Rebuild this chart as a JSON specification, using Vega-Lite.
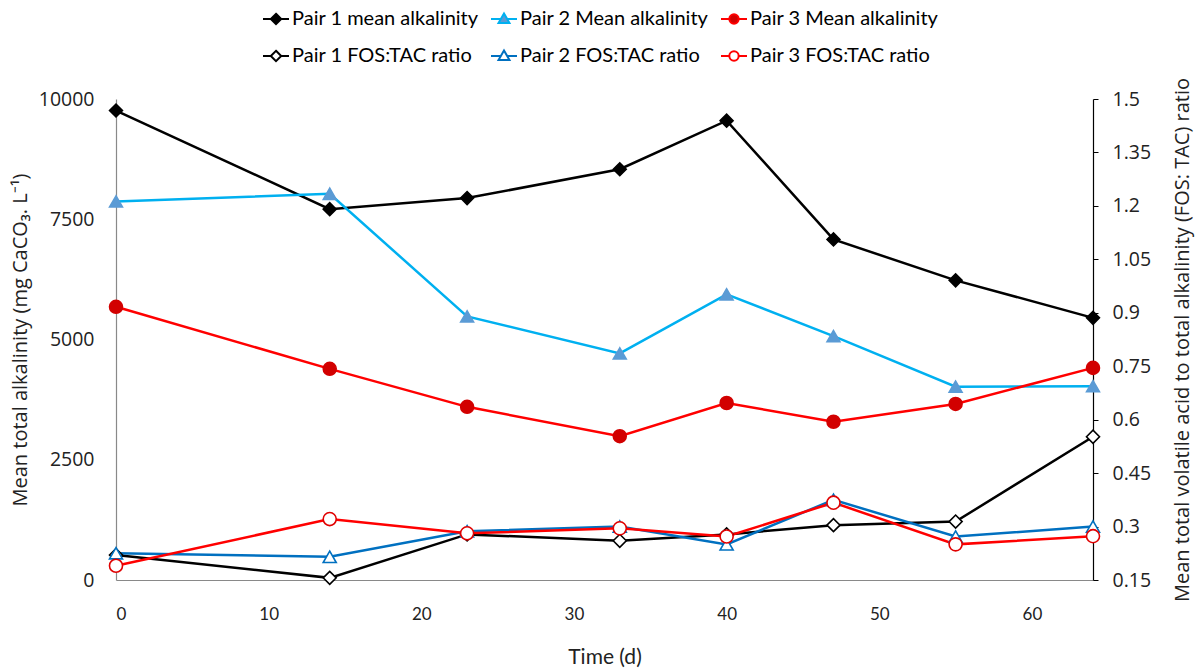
{
  "$schema": "https://vega.github.io/schema/vega-lite/v6.json",
  "width": 977,
  "height": 481,
  "autosize": {"type": "none"},
  "padding": {"left": 116, "top": 99, "right": 104, "bottom": 89},
  "background": "white",
  "config": {
    "view": {"stroke": null},
    "axis": {"grid": false, "labelColor": "#222222", "titleColor": "#222222", "titleFontWeight": "normal"}
  },
  "data": {
    "values": [
      {"t": 0, "series": "Pair 1 mean alkalinity", "kind": "mean", "v": 9760},
      {"t": 14, "series": "Pair 1 mean alkalinity", "kind": "mean", "v": 7710},
      {"t": 23, "series": "Pair 1 mean alkalinity", "kind": "mean", "v": 7940},
      {"t": 33, "series": "Pair 1 mean alkalinity", "kind": "mean", "v": 8540},
      {"t": 40, "series": "Pair 1 mean alkalinity", "kind": "mean", "v": 9550},
      {"t": 47, "series": "Pair 1 mean alkalinity", "kind": "mean", "v": 7080},
      {"t": 55, "series": "Pair 1 mean alkalinity", "kind": "mean", "v": 6230},
      {"t": 64, "series": "Pair 1 mean alkalinity", "kind": "mean", "v": 5450},
      {"t": 0, "series": "Pair 2 Mean alkalinity", "kind": "mean", "v": 7870},
      {"t": 14, "series": "Pair 2 Mean alkalinity", "kind": "mean", "v": 8030},
      {"t": 23, "series": "Pair 2 Mean alkalinity", "kind": "mean", "v": 5480},
      {"t": 33, "series": "Pair 2 Mean alkalinity", "kind": "mean", "v": 4710},
      {"t": 40, "series": "Pair 2 Mean alkalinity", "kind": "mean", "v": 5940},
      {"t": 47, "series": "Pair 2 Mean alkalinity", "kind": "mean", "v": 5070},
      {"t": 55, "series": "Pair 2 Mean alkalinity", "kind": "mean", "v": 4020},
      {"t": 64, "series": "Pair 2 Mean alkalinity", "kind": "mean", "v": 4030},
      {"t": 0, "series": "Pair 3 Mean alkalinity", "kind": "mean", "v": 5680},
      {"t": 14, "series": "Pair 3 Mean alkalinity", "kind": "mean", "v": 4390},
      {"t": 23, "series": "Pair 3 Mean alkalinity", "kind": "mean", "v": 3600},
      {"t": 33, "series": "Pair 3 Mean alkalinity", "kind": "mean", "v": 2990},
      {"t": 40, "series": "Pair 3 Mean alkalinity", "kind": "mean", "v": 3680},
      {"t": 47, "series": "Pair 3 Mean alkalinity", "kind": "mean", "v": 3290},
      {"t": 55, "series": "Pair 3 Mean alkalinity", "kind": "mean", "v": 3660},
      {"t": 64, "series": "Pair 3 Mean alkalinity", "kind": "mean", "v": 4410},
      {"t": 0, "series": "Pair 1 FOS:TAC ratio", "kind": "ratio", "v": 0.22},
      {"t": 14, "series": "Pair 1 FOS:TAC ratio", "kind": "ratio", "v": 0.156},
      {"t": 23, "series": "Pair 1 FOS:TAC ratio", "kind": "ratio", "v": 0.278},
      {"t": 33, "series": "Pair 1 FOS:TAC ratio", "kind": "ratio", "v": 0.26},
      {"t": 40, "series": "Pair 1 FOS:TAC ratio", "kind": "ratio", "v": 0.278},
      {"t": 47, "series": "Pair 1 FOS:TAC ratio", "kind": "ratio", "v": 0.304},
      {"t": 55, "series": "Pair 1 FOS:TAC ratio", "kind": "ratio", "v": 0.314},
      {"t": 64, "series": "Pair 1 FOS:TAC ratio", "kind": "ratio", "v": 0.552},
      {"t": 0, "series": "Pair 2 FOS:TAC ratio", "kind": "ratio", "v": 0.225},
      {"t": 14, "series": "Pair 2 FOS:TAC ratio", "kind": "ratio", "v": 0.215},
      {"t": 23, "series": "Pair 2 FOS:TAC ratio", "kind": "ratio", "v": 0.287},
      {"t": 33, "series": "Pair 2 FOS:TAC ratio", "kind": "ratio", "v": 0.3},
      {"t": 40, "series": "Pair 2 FOS:TAC ratio", "kind": "ratio", "v": 0.25},
      {"t": 47, "series": "Pair 2 FOS:TAC ratio", "kind": "ratio", "v": 0.375},
      {"t": 55, "series": "Pair 2 FOS:TAC ratio", "kind": "ratio", "v": 0.272},
      {"t": 64, "series": "Pair 2 FOS:TAC ratio", "kind": "ratio", "v": 0.3},
      {"t": 0, "series": "Pair 3 FOS:TAC ratio", "kind": "ratio", "v": 0.19},
      {"t": 14, "series": "Pair 3 FOS:TAC ratio", "kind": "ratio", "v": 0.321},
      {"t": 23, "series": "Pair 3 FOS:TAC ratio", "kind": "ratio", "v": 0.281},
      {"t": 33, "series": "Pair 3 FOS:TAC ratio", "kind": "ratio", "v": 0.295},
      {"t": 40, "series": "Pair 3 FOS:TAC ratio", "kind": "ratio", "v": 0.272},
      {"t": 47, "series": "Pair 3 FOS:TAC ratio", "kind": "ratio", "v": 0.367},
      {"t": 55, "series": "Pair 3 FOS:TAC ratio", "kind": "ratio", "v": 0.25},
      {"t": 64, "series": "Pair 3 FOS:TAC ratio", "kind": "ratio", "v": 0.273}
    ]
  },
  "encoding": {
    "x": {
      "field": "t",
      "type": "quantitative",
      "scale": {"domain": [0, 64], "nice": false, "zero": false},
      "axis": {
        "values": [0, 10, 20, 30, 40, 50, 60],
        "title": "Time (d)",
        "domainColor": "#898989",
        "domainWidth": 1.2,
        "ticks": false,
        "labelFont": "Lato",
        "labelFontSize": 17,
        "labelPadding": 26,
        "titleFont": "Lato",
        "titleFontSize": 21,
        "titlePadding": 24
      }
    }
  },
  "layer": [
    {
      "transform": [{"filter": "datum.kind === 'mean'"}],
      "encoding": {
        "y": {
          "field": "v",
          "type": "quantitative",
          "scale": {"domain": [0, 10000], "nice": false},
          "axis": {
            "orient": "left",
            "values": [0, 2500, 5000, 7500, 10000],
            "format": "d",
            "domainColor": "#898989",
            "domainWidth": 1.2,
            "ticks": false,
            "labelFont": "Open Sans",
            "labelFontSize": 19.5,
            "labelPadding": 22,
            "title": "Mean total alkalinity (mg CaCO₃. L⁻¹)",
            "titleFont": "Open Sans",
            "titleFontSize": 20,
            "titlePadding": 8
          }
        }
      },
      "layer": [
        {
          "mark": {"type": "line", "strokeWidth": 2.5},
          "encoding": {
            "color": {
              "field": "series", "type": "nominal", "legend": null,
              "scale": {
                "domain": ["Pair 1 mean alkalinity", "Pair 2 Mean alkalinity", "Pair 3 Mean alkalinity", "Pair 1 FOS:TAC ratio", "Pair 2 FOS:TAC ratio", "Pair 3 FOS:TAC ratio"],
                "range": ["#000000", "#00B0F0", "#FF0000", "#000000", "#0070C0", "#FF0000"]
              }
            }
          }
        },
        {
          "mark": {"type": "point", "size": 170, "strokeWidth": 1.5, "opacity": 1},
          "encoding": {
            "shape": {
              "field": "series", "type": "nominal", "legend": null,
              "scale": {
                "domain": ["Pair 1 mean alkalinity", "Pair 2 Mean alkalinity", "Pair 3 Mean alkalinity", "Pair 1 FOS:TAC ratio", "Pair 2 FOS:TAC ratio", "Pair 3 FOS:TAC ratio"],
                "range": ["diamond", "triangle-up", "circle", "diamond", "triangle-up", "circle"]
              }
            },
            "stroke": {
              "field": "series", "type": "nominal", "legend": null,
              "scale": {
                "domain": ["Pair 1 mean alkalinity", "Pair 2 Mean alkalinity", "Pair 3 Mean alkalinity", "Pair 1 FOS:TAC ratio", "Pair 2 FOS:TAC ratio", "Pair 3 FOS:TAC ratio"],
                "range": ["#000000", "#5B9BD5", "#D20000", "#000000", "#0070C0", "#E00000"]
              }
            },
            "fill": {
              "field": "series", "type": "nominal", "legend": null,
              "scale": {
                "domain": ["Pair 1 mean alkalinity", "Pair 2 Mean alkalinity", "Pair 3 Mean alkalinity", "Pair 1 FOS:TAC ratio", "Pair 2 FOS:TAC ratio", "Pair 3 FOS:TAC ratio"],
                "range": ["#000000", "#5B9BD5", "#D20000", "#FFFFFF", "#FFFFFF", "#FFFFFF"]
              }
            }
          }
        }
      ]
    },
    {
      "transform": [{"filter": "datum.kind === 'ratio'"}],
      "encoding": {
        "y": {
          "field": "v",
          "type": "quantitative",
          "scale": {"domain": [0.15, 1.5], "nice": false, "zero": false},
          "axis": {
            "orient": "right",
            "values": [0.15, 0.3, 0.45, 0.6, 0.75, 0.9, 1.05, 1.2, 1.35, 1.5],
            "labelExpr": "'' + datum.value",
            "domainColor": "#000000",
            "domainWidth": 1.2,
            "ticks": true,
            "tickColor": "#000000",
            "tickSize": 5,
            "labelFont": "Open Sans",
            "labelFontSize": 19.5,
            "labelPadding": 14,
            "title": "Mean total volatile acid to total alkalinity (FOS: TAC) ratio",
            "titleAngle": 270,
            "titleFont": "Open Sans",
            "titleFontSize": 20,
            "titlePadding": 42
          }
        }
      },
      "layer": [
        {
          "mark": {"type": "line", "strokeWidth": 2.5},
          "encoding": {
            "color": {
              "field": "series", "type": "nominal", "legend": null,
              "scale": {
                "domain": ["Pair 1 mean alkalinity", "Pair 2 Mean alkalinity", "Pair 3 Mean alkalinity", "Pair 1 FOS:TAC ratio", "Pair 2 FOS:TAC ratio", "Pair 3 FOS:TAC ratio"],
                "range": ["#000000", "#00B0F0", "#FF0000", "#000000", "#0070C0", "#FF0000"]
              }
            }
          }
        },
        {
          "mark": {"type": "point", "size": 170, "strokeWidth": 1.6, "opacity": 1},
          "encoding": {
            "shape": {
              "field": "series", "type": "nominal", "legend": null,
              "scale": {
                "domain": ["Pair 1 mean alkalinity", "Pair 2 Mean alkalinity", "Pair 3 Mean alkalinity", "Pair 1 FOS:TAC ratio", "Pair 2 FOS:TAC ratio", "Pair 3 FOS:TAC ratio"],
                "range": ["diamond", "triangle-up", "circle", "diamond", "triangle-up", "circle"]
              }
            },
            "stroke": {
              "field": "series", "type": "nominal", "legend": null,
              "scale": {
                "domain": ["Pair 1 mean alkalinity", "Pair 2 Mean alkalinity", "Pair 3 Mean alkalinity", "Pair 1 FOS:TAC ratio", "Pair 2 FOS:TAC ratio", "Pair 3 FOS:TAC ratio"],
                "range": ["#000000", "#5B9BD5", "#D20000", "#000000", "#0070C0", "#E00000"]
              }
            },
            "fill": {
              "field": "series", "type": "nominal", "legend": null,
              "scale": {
                "domain": ["Pair 1 mean alkalinity", "Pair 2 Mean alkalinity", "Pair 3 Mean alkalinity", "Pair 1 FOS:TAC ratio", "Pair 2 FOS:TAC ratio", "Pair 3 FOS:TAC ratio"],
                "range": ["#000000", "#5B9BD5", "#D20000", "#FFFFFF", "#FFFFFF", "#FFFFFF"]
              }
            }
          }
        }
      ]
    },
    {
      "mark": {"type": "point", "opacity": 0},
      "encoding": {
        "y": {"field": "v", "type": "quantitative", "axis": null},
        "shape": {
          "field": "series", "type": "nominal",
          "scale": {
            "domain": ["Pair 1 mean alkalinity", "Pair 2 Mean alkalinity", "Pair 3 Mean alkalinity", "Pair 1 FOS:TAC ratio", "Pair 2 FOS:TAC ratio", "Pair 3 FOS:TAC ratio"],
            "range": [
              "M-1,0H-0.4M0.4,0H1M0,-0.4L0.4,0L0,0.4L-0.4,0Z",
              "M-1,0H-0.24M0.24,0H1M0,-0.42L0.42,0.3L-0.42,0.3Z",
              "M-1,0H-0.36M0.36,0H1M0.36,0A0.36,0.36 0 1,1 -0.36,0A0.36,0.36 0 1,1 0.36,0Z",
              "M-1,0H-0.4M0.4,0H1M0,-0.4L0.4,0L0,0.4L-0.4,0Z",
              "M-1,0H-0.24M0.24,0H1M0,-0.42L0.42,0.3L-0.42,0.3Z",
              "M-1,0H-0.36M0.36,0H1M0.36,0A0.36,0.36 0 1,1 -0.36,0A0.36,0.36 0 1,1 0.36,0Z"
            ]
          },
          "legend": {
            "title": null,
            "orient": "none",
            "legendX": 146,
            "legendY": -94,
            "direction": "horizontal",
            "columns": 3,
            "columnPadding": 8,
            "rowPadding": 13,
            "symbolSize": 676,
            "symbolStrokeWidth": 2,
            "symbolOpacity": 1,
            "labelFont": "Lato",
            "labelFontSize": 20,
            "labelColor": "#000000",
            "labelOffset": 2,
            "labelLimit": 400
          }
        },
        "stroke": {
          "field": "series", "type": "nominal",
          "scale": {
            "domain": ["Pair 1 mean alkalinity", "Pair 2 Mean alkalinity", "Pair 3 Mean alkalinity", "Pair 1 FOS:TAC ratio", "Pair 2 FOS:TAC ratio", "Pair 3 FOS:TAC ratio"],
            "range": ["#000000", "#00B0F0", "#FF0000", "#000000", "#0070C0", "#FF0000"]
          },
          "legend": {"title": null}
        },
        "fill": {
          "field": "series", "type": "nominal",
          "scale": {
            "domain": ["Pair 1 mean alkalinity", "Pair 2 Mean alkalinity", "Pair 3 Mean alkalinity", "Pair 1 FOS:TAC ratio", "Pair 2 FOS:TAC ratio", "Pair 3 FOS:TAC ratio"],
            "range": ["#000000", "#5B9BD5", "#D20000", "#FFFFFF", "#FFFFFF", "#FFFFFF"]
          },
          "legend": {"title": null}
        }
      }
    }
  ],
  "resolve": {
    "scale": {"y": "independent", "color": "independent", "stroke": "independent", "fill": "independent", "shape": "independent"}
  }
}
